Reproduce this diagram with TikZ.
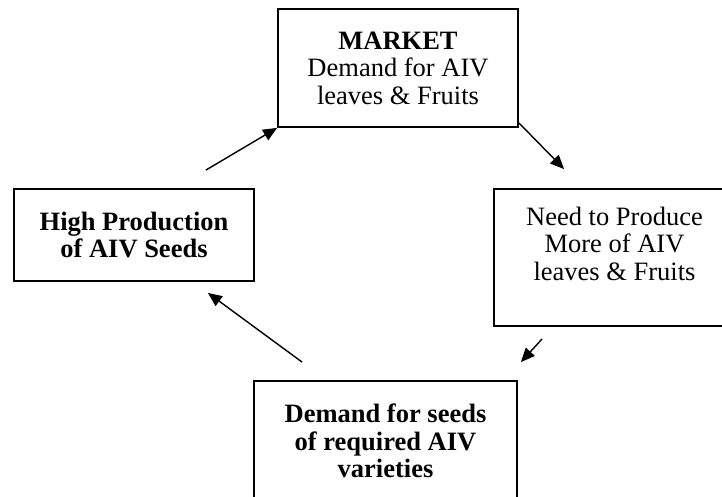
\documentclass[tikz,border=0pt]{standalone}
\usepackage{fontspec}
\setmainfont{Liberation Serif}
\usetikzlibrary{arrows.meta,calc}

\begin{document}
\begin{tikzpicture}[x=1pt,y=-1pt,
  stage/.style={draw,line width=1.8pt,align=center,inner sep=0pt,font=\fontsize{26.5}{27.5}\selectfont},
  flow/.style={line width=1.4pt,-{Triangle[length=14pt,width=12pt]}}]
\useasboundingbox (0,0) rectangle (722,497);
\clip (0,0) rectangle (722,497);
\node[stage,minimum width=240pt,minimum height=118pt] (market) at (398,68) {\textbf{MARKET}\\Demand for AIV\\leaves \& Fruits};
\node[stage,minimum width=241pt,minimum height=137pt] (need) at (614.5,257.5) {Need to Produce\\More of AIV\\leaves \& Fruits\\ ~};
\node[stage,minimum width=263pt,minimum height=120pt] (demand) at (385.5,441) {\textbf{Demand for seeds}\\\textbf{of required AIV}\\\textbf{varieties}};
\node[stage,minimum width=240pt,minimum height=92pt] (seeds) at (134,235) {\textbf{High Production}\\\textbf{of AIV Seeds}};
\draw[flow] ($(seeds.north east)+(-49,-18)$) -- (market.south west);
\draw[flow] ($(market.south east)+(0,-5)$) -- ($(need.north west)+(71,-19)$);
\draw[flow] ($(need.south west)+(49,12)$) -- ($(demand.north east)+(3,-18)$);
\draw[flow] ($(demand.north west)+(49,-18)$) -- ($(seeds.south east)+(-47,11)$);
\end{tikzpicture}
\end{document}
